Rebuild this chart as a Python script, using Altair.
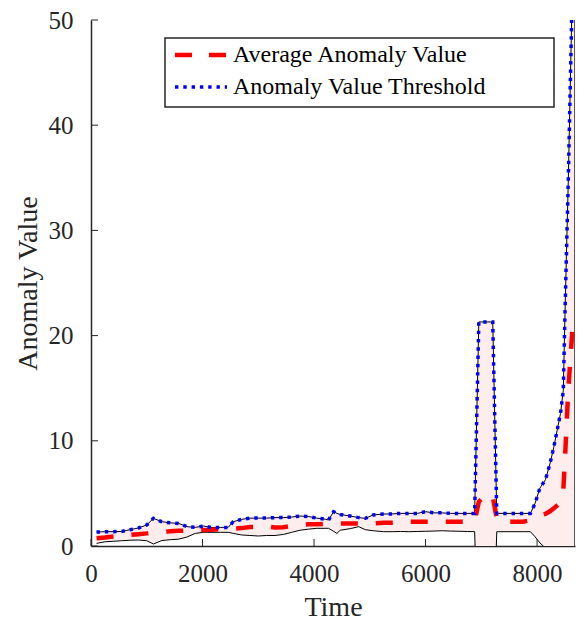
import altair as alt
import pandas as pd

# Time stamps and the three traced series: lower bound, running average, threshold
time = [100, 250, 400, 550, 700, 850, 1000, 1120, 1270, 1420, 1570, 1720, 1870,
        2020, 2170, 2320, 2460, 2550, 2700, 2850, 3000, 3150, 3300, 3450, 3600,
        3750, 3900, 4050, 4200, 4260, 4350, 4410, 4470, 4650, 4800, 4920, 5060,
        5250, 5400, 5550, 5700, 5850, 6000, 6150, 6300, 6450, 6600, 6750, 6880,
        6955, 7100, 7205, 7277, 7306, 7550, 7750, 7880, 7960, 8050, 8150, 8230,
        8300, 8420, 8470, 8500, 8530, 8560, 8600, 8640, 8680]
lower = [0.25, 0.40, 0.45, 0.50, 0.55, 0.57, 0.50, 0.19, 0.52, 0.60, 0.65, 0.85, 1.20,
         1.30, 1.30, 1.30, 1.30, 1.20, 1.05, 1.00, 0.95, 1.00, 1.00, 1.10, 1.30,
         1.50, 1.60, 1.68, 1.68, 1.68, 1.40, 1.20, 1.50, 1.65, 1.84, 1.55, 1.45,
         1.36, 1.36, 1.38, 1.36, 1.38, 1.40, 1.42, 1.45, 1.42, 1.40, 1.38, 1.36,
         -11.0, -11.0, -11.0, 1.36, 1.36, 1.36, 1.36, 1.36, 0.90, 0.30, -0.20, -1.2,
         -2.2, -4.4, -4.2, -5.6, -5.1, -5.2, -9.0, -12.0, -16.0]
average = [0.73, 0.80, 0.90, 0.97, 1.05, 1.12, 1.20, 1.28, 1.33, 1.40, 1.45, 1.47, 1.50,
           1.52, 1.55, 1.60, 1.63, 1.66, 1.70, 1.80, 1.84, 1.84, 1.76, 1.78, 1.90,
           2.00, 2.06, 2.06, 2.10, 2.10, 2.12, 2.13, 2.15, 2.15, 2.15, 2.15, 2.15,
           2.20, 2.20, 2.22, 2.30, 2.30, 2.30, 2.30, 2.31, 2.31, 2.31, 2.31, 2.35,
           4.20, 5.00, 4.70, 2.60, 2.30, 2.30, 2.30, 2.45, 2.60, 2.90, 3.05, 3.30,
           3.60, 4.10, 5.30, 8.20, 11.7, 14.8, 18.0, 21.0, 22.0]
threshold = [1.33, 1.36, 1.36, 1.38, 1.55, 1.71, 2.00, 2.63, 2.31, 2.20, 2.15, 1.84, 1.77,
             1.90, 1.74, 1.77, 1.77, 2.31, 2.53, 2.65, 2.65, 2.65, 2.70, 2.70, 2.75,
             2.85, 2.80, 2.65, 2.55, 2.47, 3.26, 3.10, 3.00, 2.85, 2.70, 2.63, 2.95,
             3.04, 3.05, 3.10, 3.10, 3.10, 3.26, 3.15, 3.15, 3.10, 3.10, 3.10, 3.10,
             21.3, 21.3, 21.3, 3.10, 3.10, 3.10, 3.10, 3.10, 4.00, 5.50, 6.30, 7.80,
             9.40, 12.6, 14.8, 22.0, 28.5, 34.8, 45.0, 55.0, 60.0]

x_ticks = [0, 2000, 4000, 6000, 8000]
y_ticks = [0, 10, 20, 30, 40, 50]
legend_labels = ["Average Anomaly Value", "Anomaly Value Threshold"]

X_MAX = 8680
W, H = 484, 526
FONT = "Liberation Serif"
AXIS_COLOR = "#262626"
TICK_LEN = 7
RED_DASH = [17, 18]
BLUE_DOT = [3.4, 4.9]

df = pd.DataFrame({"time": time, "lower": lower, "average": average, "threshold": threshold})
last = df.tail(1)
one = pd.DataFrame({"a": [0]})

xs = alt.Scale(domain=[0, X_MAX], nice=False, zero=False)
ys = alt.Scale(domain=[0, 50], nice=False)

x_axis = alt.Axis(title="Time", values=x_ticks, format="d", ticks=False, grid=False,
                  labelFlush=False, labelPadding=15, titlePadding=7)
y_axis = alt.Axis(title="Anomaly Value", values=y_ticks, ticks=False, grid=False,
                  labelFlush=False, labelPadding=18, titlePadding=6)


def X(field="time:Q"):
    return alt.X(field, scale=xs, axis=x_axis)


def Y(field):
    return alt.Y(field, scale=ys, axis=y_axis)


# shaded band between the lower bound and the threshold
band = alt.Chart(df).mark_area(color="#fdeded", clip=True).encode(
    x=X(), y=Y("lower:Q"), y2="threshold:Q")

lower_line = alt.Chart(df).mark_line(color="black", strokeWidth=1, clip=True).encode(
    x=X(), y=Y("lower:Q"))

upper_line = alt.Chart(df).mark_line(color="black", strokeWidth=1, clip=True).encode(
    x=X(), y=Y("threshold:Q"))

end_edge = alt.Chart(last).mark_rule(color="#333333", strokeWidth=1.6, clip=True).encode(
    x=X(), y=Y("lower:Q"), y2="threshold:Q")

avg_line = alt.Chart(df).mark_line(color="#ff0000", strokeWidth=4.5, strokeDash=RED_DASH,
                                   strokeCap="butt", clip=True).encode(
    x=X(), y=Y("average:Q"))

thr_line = alt.Chart(df).mark_line(color="#0000ff", strokeWidth=3.5, strokeDash=BLUE_DOT,
                                   strokeCap="butt", clip=True).encode(
    x=X(), y=Y("threshold:Q"))

# inward-pointing tick marks
x_tick_marks = alt.Chart(pd.DataFrame({"v": x_ticks})).mark_rule(
    color=AXIS_COLOR, strokeWidth=1).encode(
    x=X("v:Q"), y=alt.value(H), y2=alt.value(H - TICK_LEN))
y_tick_marks = alt.Chart(pd.DataFrame({"v": y_ticks})).mark_rule(
    color=AXIS_COLOR, strokeWidth=1).encode(
    y=Y("v:Q"), x=alt.value(0), x2=alt.value(TICK_LEN))

# legend
box = alt.Chart(one).mark_rect(fill="white", stroke=AXIS_COLOR, strokeWidth=1.5).encode(
    x=alt.value(74), x2=alt.value(463), y=alt.value(18), y2=alt.value(87))
leg_avg = alt.Chart(one).mark_rule(
    color="#ff0000", strokeWidth=4.5, strokeDash=[17, 17], strokeCap="butt").encode(
    x=alt.value(84), x2=alt.value(136), y=alt.value(35))
leg_thr = alt.Chart(one).mark_rule(
    color="#0000ff", strokeWidth=3.5, strokeDash=BLUE_DOT, strokeCap="butt").encode(
    x=alt.value(84), x2=alt.value(136), y=alt.value(67))
leg_txt1 = alt.Chart(one).mark_text(
    align="left", baseline="middle", font=FONT, fontSize=24, color="black").encode(
    x=alt.value(142), y=alt.value(35), text=alt.value(legend_labels[0]))
leg_txt2 = alt.Chart(one).mark_text(
    align="left", baseline="middle", font=FONT, fontSize=24, color="black").encode(
    x=alt.value(142), y=alt.value(67), text=alt.value(legend_labels[1]))

chart = alt.layer(
    band, lower_line, upper_line, end_edge, avg_line, thr_line,
    x_tick_marks, y_tick_marks, box, leg_avg, leg_thr, leg_txt1, leg_txt2
).properties(
    width=W, height=H,
    autosize=alt.AutoSizeParams(type="none"),
    padding={"left": 91, "top": 20, "right": 9, "bottom": 76},
).configure_view(stroke=None).configure_axis(
    domainColor=AXIS_COLOR, domainWidth=1.5,
    labelFont=FONT, labelFontSize=25, labelColor=AXIS_COLOR,
    titleFont=FONT, titleFontSize=28, titleFontWeight="normal", titleColor=AXIS_COLOR,
)

chart.save("out.html", embed_options={"renderer": "svg", "actions": False})
